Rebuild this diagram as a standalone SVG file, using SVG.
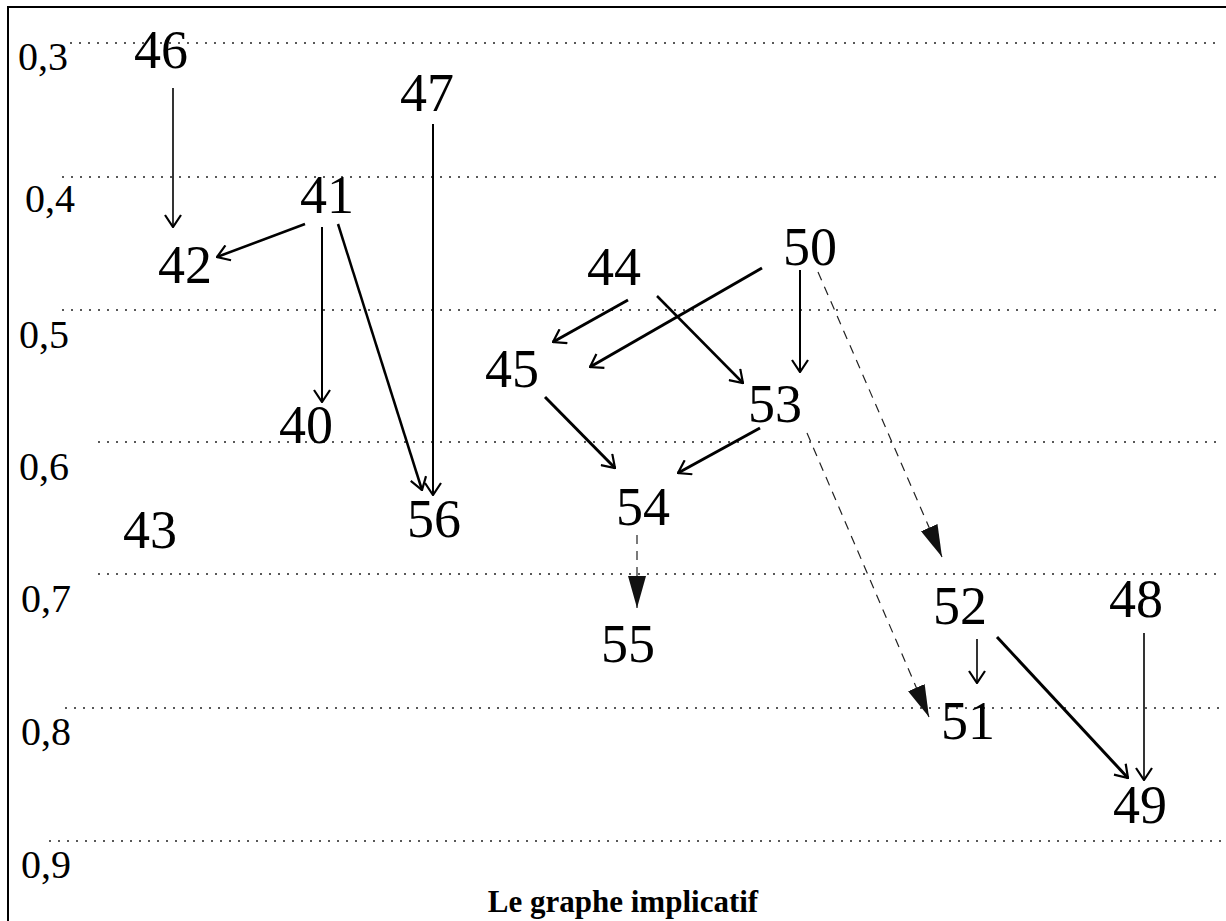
<svg xmlns="http://www.w3.org/2000/svg" width="1226" height="921" viewBox="0 0 1226 921">
<style>
.grid{stroke:#222;stroke-width:1.3;stroke-dasharray:2 7;fill:none}
.axis{font-family:"Liberation Serif",Times,serif;font-size:40px;fill:#000}
.node{font-family:"Liberation Serif",Times,serif;font-size:54px;fill:#000;text-anchor:middle}
.cap{font-family:"Liberation Serif",Times,serif;font-size:31px;font-weight:bold;fill:#000;text-anchor:middle}
.sol{stroke:#000;fill:none;marker-end:url(#open)}
.dash{stroke:#222;stroke-width:1.2;stroke-dasharray:9 7;fill:none;marker-end:url(#tri)}
</style>
<defs>
<marker id="open" markerUnits="userSpaceOnUse" viewBox="0 0 14 18" refX="13" refY="9" markerWidth="14" markerHeight="18" orient="auto">
<path d="M1,1 L13,9 L1,17" fill="none" stroke="#000" stroke-width="2.2"/>
</marker>
<marker id="tri" markerUnits="userSpaceOnUse" viewBox="0 0 32 18" refX="32" refY="9" markerWidth="32" markerHeight="18" orient="auto">
<path d="M0,0 L32,9 L0,18 z" fill="#111"/>
</marker>
</defs>
<rect width="1226" height="921" fill="#fff"/>
<g id="frame">
<line x1="7" y1="7" x2="1226" y2="7" stroke="#000" stroke-width="2"/>
<line x1="8" y1="6" x2="8" y2="921" stroke="#000" stroke-width="2"/>
</g>
<g id="grid">
<line class="grid" x1="70" y1="43" x2="1222" y2="43"/>
<line class="grid" x1="62" y1="177" x2="1222" y2="177"/>
<line class="grid" x1="62" y1="310" x2="1222" y2="310"/>
<line class="grid" x1="98" y1="442" x2="1222" y2="442"/>
<line class="grid" x1="98" y1="574" x2="1222" y2="574"/>
<line class="grid" x1="65" y1="708" x2="1222" y2="708"/>
<line class="grid" x1="49" y1="841" x2="1222" y2="841"/>
</g>
<g id="axis-labels">
<text class="axis" x="18" y="70">0,3</text>
<text class="axis" x="25" y="212">0,4</text>
<text class="axis" x="19" y="348">0,5</text>
<text class="axis" x="19" y="480">0,6</text>
<text class="axis" x="21" y="612">0,7</text>
<text class="axis" x="21" y="745">0,8</text>
<text class="axis" x="21" y="878">0,9</text>
</g>
<g id="connectors">
<line class="sol" stroke-width="1.6" x1="173" y1="88" x2="173" y2="227"/>
<line class="sol" stroke-width="2.5" x1="305" y1="224" x2="217" y2="257"/>
<line class="sol" stroke-width="2" x1="322" y1="227" x2="322" y2="402"/>
<line class="sol" stroke-width="2.5" x1="338" y1="224" x2="422" y2="490"/>
<line class="sol" stroke-width="2" x1="433" y1="124" x2="433" y2="495"/>
<line class="sol" stroke-width="3" x1="628" y1="300" x2="553" y2="342"/>
<line class="sol" stroke-width="3" x1="762" y1="268" x2="590" y2="367"/>
<line class="sol" stroke-width="2.5" x1="657" y1="296" x2="743" y2="383"/>
<line class="sol" stroke-width="2" x1="800" y1="270" x2="800" y2="372"/>
<line class="sol" stroke-width="3" x1="545" y1="397" x2="615" y2="468"/>
<line class="sol" stroke-width="3" x1="760" y1="428" x2="678" y2="473"/>
<line class="sol" stroke-width="1.6" x1="977" y1="639" x2="977" y2="683"/>
<line class="sol" stroke-width="3" x1="997" y1="637" x2="1128" y2="778"/>
<line class="sol" stroke-width="1.6" x1="1144" y1="633" x2="1144" y2="780"/>
<line class="dash" x1="818" y1="272" x2="942" y2="557"/>
<line class="dash" x1="807" y1="433" x2="929" y2="717"/>
<line class="dash" x1="637" y1="535" x2="637" y2="608"/>
</g>
<g id="n46"><text class="node" x="161" y="68">46</text></g>
<g id="n47"><text class="node" x="427" y="111">47</text></g>
<g id="n41"><text class="node" x="327" y="213">41</text></g>
<g id="n42"><text class="node" x="185" y="283">42</text></g>
<g id="n40"><text class="node" x="306" y="443">40</text></g>
<g id="n56"><text class="node" x="434" y="537">56</text></g>
<g id="n43"><text class="node" x="150" y="548">43</text></g>
<g id="n44"><text class="node" x="614" y="285">44</text></g>
<g id="n50"><text class="node" x="810" y="265">50</text></g>
<g id="n45"><text class="node" x="512" y="387">45</text></g>
<g id="n53"><text class="node" x="775" y="422">53</text></g>
<g id="n54"><text class="node" x="643" y="525">54</text></g>
<g id="n55"><text class="node" x="628" y="662">55</text></g>
<g id="n52"><text class="node" x="960" y="624">52</text></g>
<g id="n48"><text class="node" x="1136" y="617">48</text></g>
<g id="n51"><text class="node" x="968" y="739">51</text></g>
<g id="n49"><text class="node" x="1140" y="823">49</text></g>
<g id="caption"><text class="cap" x="623" y="912">Le graphe implicatif</text></g>
</svg>
